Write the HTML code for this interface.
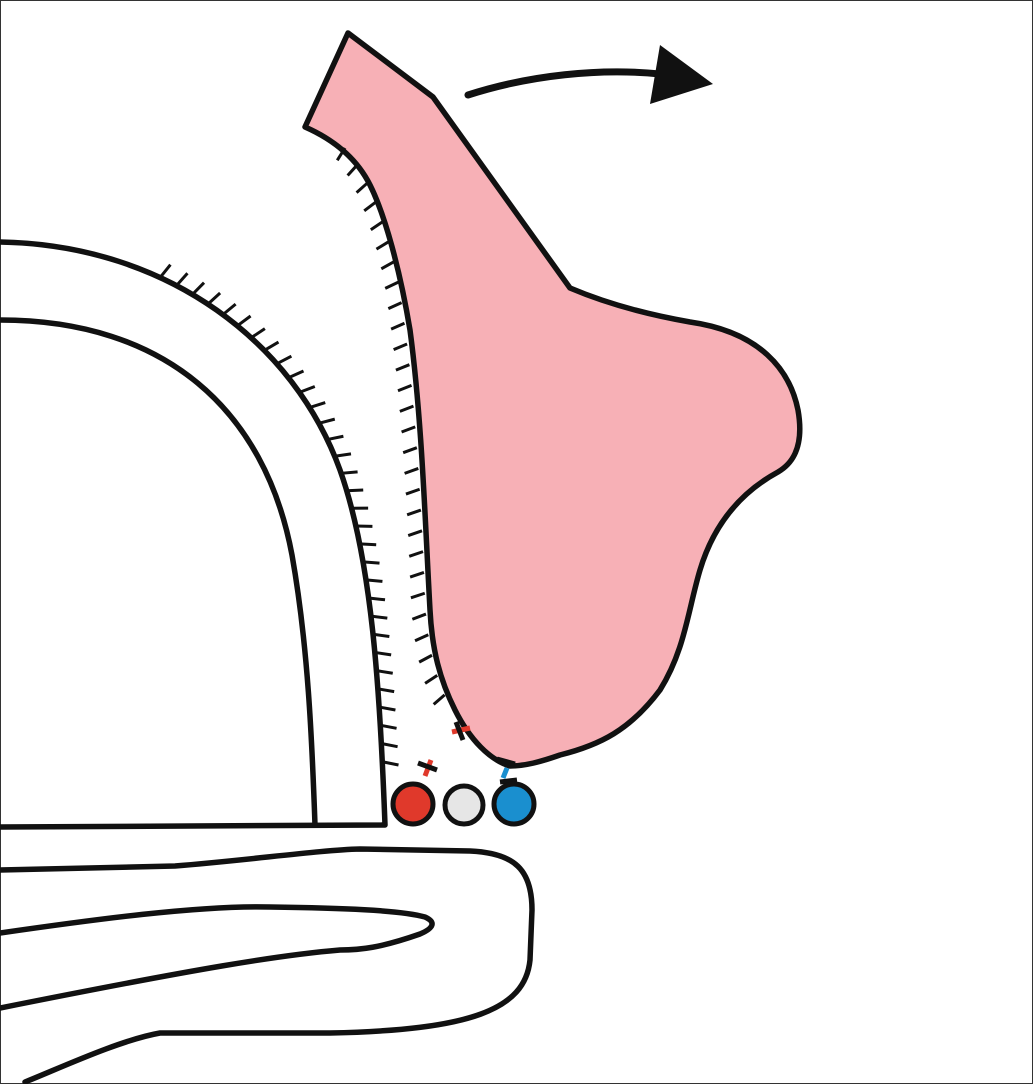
<!DOCTYPE html>
<html><head><style>html,body{margin:0;padding:0;background:#fff}svg{display:block}</style></head>
<body>
<svg id="s" width="1033" height="1084" viewBox="0 0 1033 1084" xmlns="http://www.w3.org/2000/svg">
<rect x="0.5" y="0.5" width="1032" height="1083" fill="#fff" stroke="#333" stroke-width="1"/>
<g fill="none" stroke="#111" stroke-width="5.5" stroke-linejoin="round" stroke-linecap="round">
<path id="outer" d="M0,242 C170,245 295,345 340,470 C372,560 380,690 385,825 L0,827"/>
<path d="M0,320 C165,320 265,410 292,555 C308,645 312,740 315,825"/>
<path d="M0,870 C80,868 140,867 175,866 C250,860 320,850 360,849 L470,851 C515,853 532,870 532,910 L530,960 C525,1010 470,1030 330,1033 L160,1033 C120,1040 60,1068 25,1082"/>
<path d="M0,933 C90,920 200,905 270,907 C340,908 400,910 425,917 C436,922 434,928 420,934 C380,948 360,950 340,950 C280,955 200,968 0,1008"/>
<path id="pink" fill="#f7b0b6" d="M348,33 L433,97 L570,288 C610,305 650,315 690,322 C760,332 790,370 798,410 C805,450 790,465 778,472 C745,490 715,520 700,570 C688,610 685,650 660,690 C630,730 600,745 560,755 C540,762 525,766 510,766 C490,760 470,740 455,710 C440,680 432,650 430,610 C425,520 422,420 410,330 C400,270 385,215 370,185 C355,155 330,138 305,127 Z"/>
<path id="pinkleft" d="M345,148 C365,170 385,215 398,280 C410,350 420,460 425,600 C427,640 435,680 450,705" stroke="none"/>
<path d="M468,95 C530,75 600,68 660,74" stroke-width="7"/>
</g>
<polygon points="713,84 660,45 650,104" fill="#111"/>
<g id="ticks" stroke="#111" stroke-width="3"></g>
<g stroke-width="5">
<line x1="425" y1="776" x2="431" y2="760" stroke="#e0392b"/>
<line x1="418" y1="763" x2="437" y2="770" stroke="#111"/>
<line x1="452" y1="732" x2="470" y2="728" stroke="#e0392b"/>
<line x1="456" y1="722" x2="463" y2="740" stroke="#111"/>
<line x1="507" y1="768" x2="503" y2="778" stroke="#1a8fcf"/>
<line x1="497" y1="759" x2="515" y2="764" stroke="#111"/>
<line x1="500" y1="782" x2="517" y2="780" stroke="#111"/>
</g>
<g stroke="#111" stroke-width="5">
<circle cx="413" cy="804" r="20" fill="#e0392b"/>
<circle cx="464" cy="805" r="19" fill="#e6e6e6"/>
<circle cx="514" cy="804" r="20" fill="#1a8fcf"/>
</g>
</svg>
<script>
(function(){
var g=document.getElementById('ticks');
function ticks(id,s0,s1,n,len,side){
 var p=document.getElementById(id),L=p.getTotalLength();
 for(var i=0;i<n;i++){
  var t=s0+(s1-s0)*i/(n-1),a=p.getPointAtLength(t*L),b=p.getPointAtLength(Math.min(L,t*L+1));
  var dx=b.x-a.x,dy=b.y-a.y,m=Math.hypot(dx,dy)||1;var nx=-dy/m*side,ny=dx/m*side;
  var l=document.createElementNS('http://www.w3.org/2000/svg','line');
  l.setAttribute('x1',a.x);l.setAttribute('y1',a.y);
  l.setAttribute('x2',a.x+nx*len+dx/m*4);l.setAttribute('y2',a.y+ny*len+dy/m*4);
  g.appendChild(l);
 }
}
ticks('outer',0.14,0.62,32,-16,1);
ticks('pinkleft',0.0,0.98,28,-14,-1);
})();
</script>
</body></html>
